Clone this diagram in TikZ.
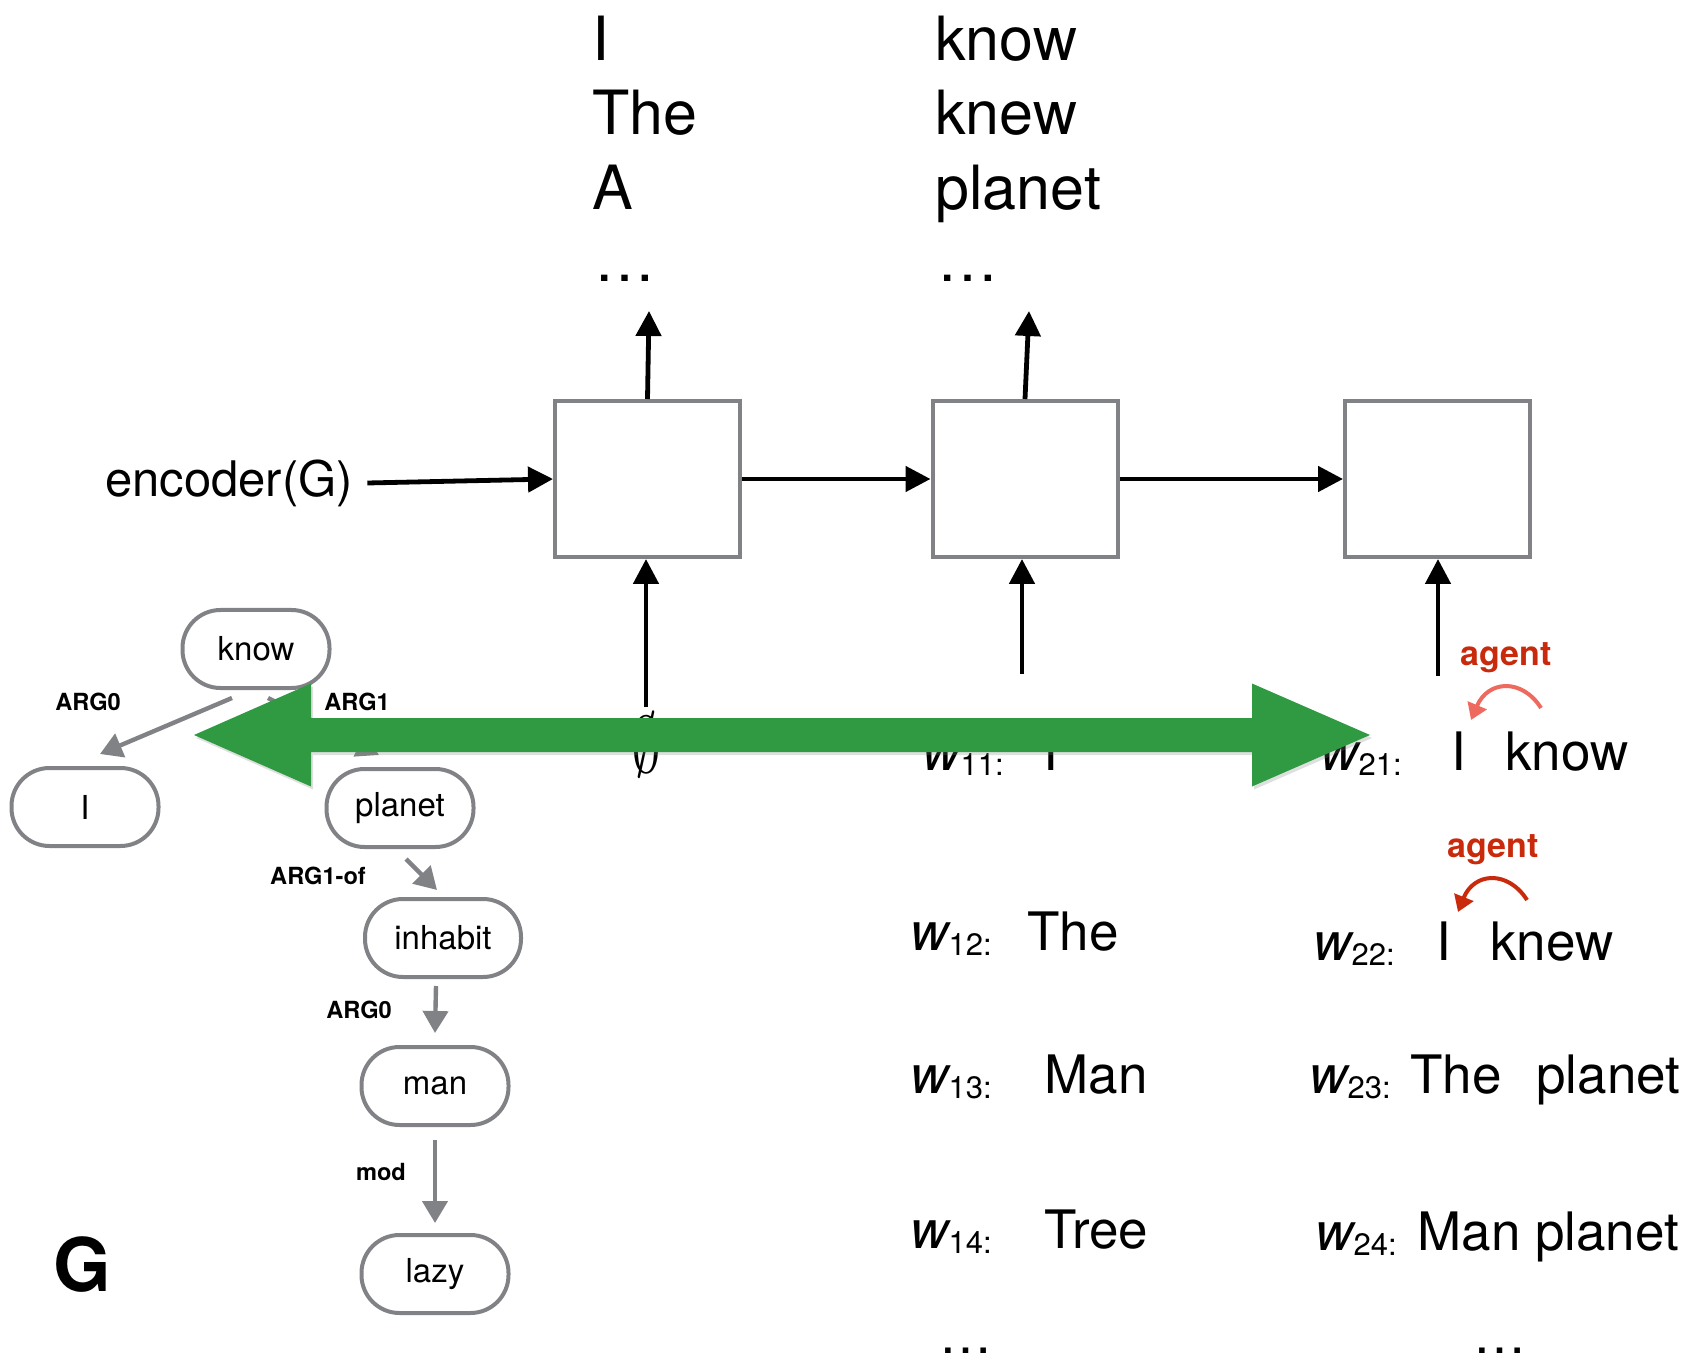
\documentclass[tikz,border=0pt]{standalone}
\usepackage{graphicx}
\usepackage{fontspec}
\setmainfont{TeX Gyre Heros}
\usetikzlibrary{arrows.meta,positioning,shadows}
\definecolor{Frame}{HTML}{808285}
\definecolor{Leaf}{HTML}{2F9A41}
\definecolor{Agent}{HTML}{C92A0C}
\definecolor{AgentLight}{HTML}{EE6A5E}
\newcommand{\wlab}[1]{{\itshape w}\raisebox{-0.1em}{\fontsize{15.5}{18}\selectfont #1:}}

\begin{document}
\begin{tikzpicture}[x=0.5pt,y=-0.5pt,
cell/.style={draw=Frame,line width=2pt,minimum width=92.5pt,minimum height=78pt,inner sep=0pt},
flow/.style={-{Triangle[length=12.5pt,width=12.5pt]},line width=2.4pt,draw=black},
concept/.style={draw=Frame,line width=2pt,rounded corners=19pt,minimum width=73.5pt,minimum height=39pt,inner sep=0pt,font=\fontsize{16.5}{20}\selectfont},
rel/.style={-{Triangle[length=11pt,width=12.5pt]},line width=2.2pt,draw=Frame},
role/.style={inner sep=0pt,font=\fontsize{11.8}{14}\selectfont\bfseries},
cand/.style={anchor=base west,inner sep=0pt,font=\fontsize{30.5}{36}\selectfont},
word/.style={anchor=base west,inner sep=0pt,font=\fontsize{26.5}{30}\selectfont},
agent/.style={anchor=base west,inner sep=0pt,text=Agent,font=\fontsize{17}{20}\selectfont\bfseries},
hook/.style={line width=2pt,-{Triangle[length=8pt,width=10pt]}}]
\useasboundingbox (0,0) rectangle (1692,1363);

% decoder
\node[cell] (c1) at (647.5,479) {};
\node[cell,right=94.25pt of c1] (c2) {};
\node[cell,right=111.75pt of c2] (c3) {};
\node[inner sep=0pt,font=\fontsize{24.5}{28}\selectfont] (enc) at (229,483) {encoder(G)};
\draw[flow] ([xshift=7pt]enc.east) -- (c1.west);
\draw[flow] (c1) -- (c2);
\draw[flow] (c2) -- (c3);

% candidate words
\node[cand] (a1) at (592,61) {I};
\node[cand] (a2) at (592,135) {The};
\node[cand] (a3) at (592,210) {A};
\node[cand] (a4) at (594,282) {\ldots};
\node[cand] (b1) at (935,61) {know};
\node[cand] (b2) at (935,135) {knew};
\node[cand] (b3) at (935,210) {planet};
\node[cand] (b4) at (937,282) {\ldots};
\coordinate (o1) at (649,311);
\coordinate (o2) at (1029,311);
\draw[flow] (c1.north) -- (o1);
\draw[flow] (c2.north) -- (o2);

% inputs
\coordinate (i1) at (646,707);
\coordinate (i2) at (1022,674);
\coordinate (i3) at (1438,676);
\draw[flow] (i1) -- (i1 |- c1.south);
\draw[flow] (i2) -- (i2 |- c2.south);
\draw[flow] (i3) -- (i3 |- c3.south);
\node[inner sep=0pt] (nil) at (646,745) {\scalebox{3}[4]{$\emptyset$}};

% hypotheses
\node[word] (w11) at (922,770) {\wlab{11}};
\node[word] (t11) at (1043,770) {I};
\node[word] (w12) at (910,950) {\wlab{12}};
\node[word] (t12) at (1027,950) {The};
\node[word] (w13) at (910,1093) {\wlab{13}};
\node[word] (t13) at (1044,1093) {Man};
\node[word] (w14) at (910,1248) {\wlab{14}};
\node[word] (t14) at (1044,1248) {Tree};
\node[word] (d1) at (939,1353) {\ldots};
\node[word] (w21) at (1320,770) {\wlab{21}};
\node[word] (i21) at (1451,770) {I};
\node[word] (k21) at (1505,770) {know};
\node[word] (w22) at (1313,960) {\wlab{22}};
\node[word] (i22) at (1436,960) {I};
\node[word] (k22) at (1490,960) {knew};
\node[word] (w23) at (1309,1093) {\wlab{23}};
\node[word] (t23) at (1410,1093) {The};
\node[word] (p23) at (1536,1093) {planet};
\node[word] (w24) at (1315,1250) {\wlab{24}};
\node[word] (t24) at (1417,1250) {Man planet};
\node[word] (d2) at (1473,1353) {\ldots};

% agent relations
\node[agent] (ag1) at (1460,666) {agent};
\node[agent] (ag2) at (1447,857) {agent};
\coordinate (s1) at (1541,708);
\coordinate (e1) at (1471,720);
\coordinate (s2) at (1527,900);
\coordinate (e2) at (1458,912);
\draw[hook,draw=AgentLight] (s1) .. controls (1522,678) and (1488,680) .. (e1);
\draw[hook,draw=Agent] (s2) .. controls (1508,870) and (1474,872) .. (e2);

% graph G
\node[concept] (know) at (256,649) {know};
\node[concept,below left=38pt and 10pt of know] (I) {I};
\node[concept] (planet) at (400,808) {planet};
\node[concept,minimum width=78pt,below=24pt of planet,xshift=21.5pt] (inhabit) {inhabit};
\node[concept,below=33pt of inhabit,xshift=-4pt] (man) {man};
\node[concept,below=53pt of man] (lazy) {lazy};
\draw[rel] ([xshift=-12pt,yshift=-4pt]know.south) -- ([xshift=7.5pt,yshift=6pt]I.north);
\draw[rel] ([xshift=6pt,yshift=-4pt]know.south) -- ([xshift=-10.5pt,yshift=6pt]planet.north);
\draw[rel] ([xshift=3pt,yshift=-5pt]planet.south) -- ([xshift=-3pt,yshift=3.5pt]inhabit.north);
\draw[rel] ([xshift=-3.5pt,yshift=-3.5pt]inhabit.south) -- ([yshift=6pt]man.north);
\draw[rel] ([yshift=-6.5pt]man.south) -- ([yshift=5pt]lazy.north);
\node[role] (r1) at (88,702) {ARG0};
\node[role] (r2) at (357,702) {ARG1};
\node[role] (r3) at (318,876) {ARG1-of};
\node[role] (r4) at (359,1010) {ARG0};
\node[role] (r5) at (381,1172) {mod};
\node[inner sep=0pt,font=\fontsize{37}{40}\selectfont\bfseries] (G) at (82,1265) {G};

% alignment arrow
\fill[Leaf,drop shadow={shadow xshift=1pt,shadow yshift=-1.5pt,opacity=.25}]
  (194,735) -- (311,683.5) -- (311,718) -- (1252,718) -- (1252,683.5) -- (1370,735)
  -- (1252,786.5) -- (1252,752) -- (311,752) -- (311,786.5) -- cycle;
\end{tikzpicture}
\end{document}
